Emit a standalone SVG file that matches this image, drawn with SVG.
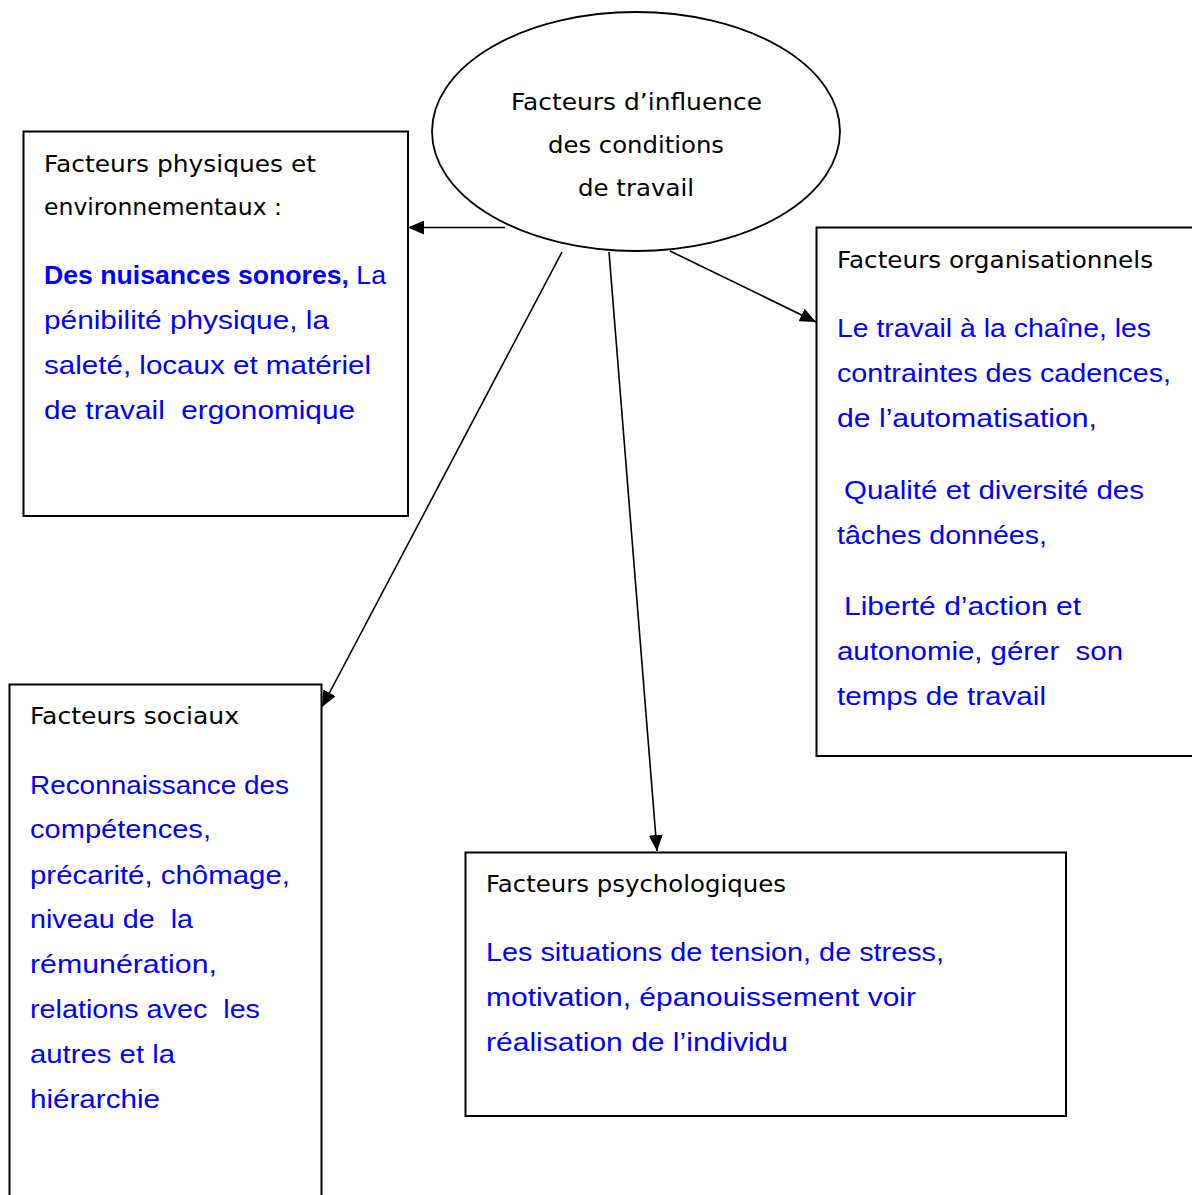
<svg xmlns="http://www.w3.org/2000/svg" width="1192" height="1195" viewBox="0 0 1192 1195">
<style>
text{white-space:pre}
.box{fill:#fff;stroke:#000;stroke-width:2}
.hd{font-family:"DejaVu Sans","Liberation Sans",sans-serif;font-size:22.5px;fill:#000}
.bl{font-family:"Liberation Sans","Noto Sans",sans-serif;font-size:25.5px;fill:#0000ff}
.b{font-weight:bold}
.ln{stroke:#000;stroke-width:1.6;fill:none;marker-end:url(#ah)}
</style>
<defs>
<marker id="ah" markerUnits="userSpaceOnUse" markerWidth="18" markerHeight="14" refX="16" refY="7" orient="auto">
<path d="M0,0 L16,7 L0,14 Z" fill="#000"/>
</marker>
</defs>
<rect width="1192" height="1195" fill="#fff"/>
<g id="center">
<ellipse cx="636" cy="131.5" rx="204" ry="119.5" fill="#fff" stroke="#000" stroke-width="1.8"/>
<text class="hd" x="511" y="110" textLength="251" lengthAdjust="spacingAndGlyphs">Facteurs d’influence</text>
<text class="hd" x="548" y="153" textLength="176" lengthAdjust="spacingAndGlyphs">des conditions</text>
<text class="hd" x="578" y="196" textLength="116" lengthAdjust="spacingAndGlyphs">de travail</text>
</g>
<g id="physiques">
<rect class="box" x="23.5" y="131.5" width="384.5" height="384.5"/>
<text class="hd" x="44" y="172" textLength="272" lengthAdjust="spacingAndGlyphs">Facteurs physiques et</text>
<text class="hd" x="44" y="215" textLength="238" lengthAdjust="spacingAndGlyphs">environnementaux :</text>
<text class="bl" x="44" y="284" textLength="342" lengthAdjust="spacingAndGlyphs"><tspan class="b">Des nuisances sonores,</tspan> La</text>
<text class="bl" x="44" y="329" textLength="285" lengthAdjust="spacingAndGlyphs">pénibilité physique, la</text>
<text class="bl" x="44" y="374" textLength="327" lengthAdjust="spacingAndGlyphs">saleté, locaux et matériel</text>
<text class="bl" x="44" y="419" textLength="311" lengthAdjust="spacingAndGlyphs">de travail  ergonomique</text>
</g>
<g id="organisationnels">
<rect class="box" x="816.5" y="227.5" width="380" height="528.5"/>
<text class="hd" x="837" y="268" textLength="316" lengthAdjust="spacingAndGlyphs">Facteurs organisationnels</text>
<text class="bl" x="837" y="337" textLength="314" lengthAdjust="spacingAndGlyphs">Le travail à la chaîne, les</text>
<text class="bl" x="837" y="382" textLength="334" lengthAdjust="spacingAndGlyphs">contraintes des cadences,</text>
<text class="bl" x="837" y="427" textLength="260" lengthAdjust="spacingAndGlyphs">de l’automatisation,</text>
<text class="bl" x="844" y="499" textLength="300" lengthAdjust="spacingAndGlyphs">Qualité et diversité des</text>
<text class="bl" x="837" y="544" textLength="210" lengthAdjust="spacingAndGlyphs">tâches données,</text>
<text class="bl" x="844" y="615" textLength="237" lengthAdjust="spacingAndGlyphs">Liberté d’action et</text>
<text class="bl" x="837" y="660" textLength="286" lengthAdjust="spacingAndGlyphs">autonomie, gérer  son</text>
<text class="bl" x="837" y="705" textLength="209" lengthAdjust="spacingAndGlyphs">temps de travail</text>
</g>
<g id="sociaux">
<rect class="box" x="9.5" y="684.5" width="312" height="520"/>
<text class="hd" x="30" y="724" textLength="209" lengthAdjust="spacingAndGlyphs">Facteurs sociaux</text>
<text class="bl" x="30" y="794" textLength="259" lengthAdjust="spacingAndGlyphs">Reconnaissance des</text>
<text class="bl" x="30" y="838" textLength="181" lengthAdjust="spacingAndGlyphs">compétences,</text>
<text class="bl" x="30" y="884" textLength="260" lengthAdjust="spacingAndGlyphs">précarité, chômage,</text>
<text class="bl" x="30" y="928" textLength="163" lengthAdjust="spacingAndGlyphs">niveau de  la</text>
<text class="bl" x="30" y="973" textLength="187" lengthAdjust="spacingAndGlyphs">rémunération,</text>
<text class="bl" x="30" y="1018" textLength="230" lengthAdjust="spacingAndGlyphs">relations avec  les</text>
<text class="bl" x="30" y="1063" textLength="145" lengthAdjust="spacingAndGlyphs">autres et la</text>
<text class="bl" x="30" y="1108" textLength="130" lengthAdjust="spacingAndGlyphs">hiérarchie</text>
</g>
<g id="psychologiques">
<rect class="box" x="465.5" y="852.5" width="600.5" height="263.5"/>
<text class="hd" x="486" y="892" textLength="300" lengthAdjust="spacingAndGlyphs">Facteurs psychologiques</text>
<text class="bl" x="486" y="961" textLength="458" lengthAdjust="spacingAndGlyphs">Les situations de tension, de stress,</text>
<text class="bl" x="486" y="1006" textLength="430" lengthAdjust="spacingAndGlyphs">motivation, épanouissement voir</text>
<text class="bl" x="486" y="1051" textLength="302" lengthAdjust="spacingAndGlyphs">réalisation de l’individu</text>
</g>
<g id="connectors">
<line class="ln" x1="505" y1="227.5" x2="408" y2="227.5"/>
<line class="ln" x1="562" y1="252" x2="322" y2="707"/>
<line class="ln" x1="609" y1="252" x2="657" y2="851"/>
<line class="ln" x1="670" y1="251" x2="816" y2="322"/>
</g>
</svg>
